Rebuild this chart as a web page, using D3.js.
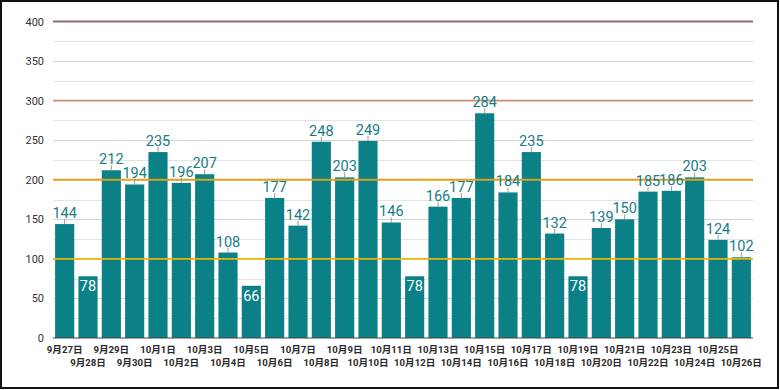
<!DOCTYPE html>
<html><head><meta charset="utf-8">
<script src="https://cdn.jsdelivr.net/npm/d3@7/dist/d3.min.js"></script>
<style>
html,body{margin:0;padding:0;background:#fff;}
svg{display:block;}
</style></head>
<body>
<svg id="chart" width="780" height="390"></svg>
<script>
const categories = ["9月27日","9月28日","9月29日","9月30日","10月1日","10月2日","10月3日","10月4日","10月5日","10月6日","10月7日","10月8日","10月9日","10月10日","10月11日","10月12日","10月13日","10月14日","10月15日","10月16日","10月17日","10月18日","10月19日","10月20日","10月21日","10月22日","10月23日","10月24日","10月25日","10月26日"];
const values = [144,78,212,194,235,196,207,108,66,177,142,248,203,249,146,78,166,177,284,184,235,132,78,139,150,185,186,203,124,102];
const yTicks = [0,50,100,150,200,250,300,350,400];
const gridValues = [25,50,75,125,150,175,225,250,275,325,350,375];
const refLines = [100,200,300,400];
const refColors = ["#e8b407","#e0a01c","#cc8c6c","#8a6e68"];

const svg = d3.select("#chart");
const W = 780, H = 390;
const m = {left:53, right:27, top:21.5, bottom:52};
const x = d3.scaleBand().domain(categories).range([m.left, W - m.right]).paddingInner(0.18).paddingOuter(0.09);
const y = d3.scaleLinear().domain([0,400]).range([338, 21.5]);

svg.append("rect").attr("x",1).attr("y",1).attr("width",777).attr("height",387)
  .attr("fill","#fff").attr("stroke","#111").attr("stroke-width",2);

const font = "Roboto, 'Noto Sans CJK JP', sans-serif";

// minor grid
svg.append("g").selectAll("line").data(gridValues).join("line")
  .attr("x1", m.left).attr("x2", W - m.right)
  .attr("y1", d => Math.round(y(d)) + 0.5).attr("y2", d => Math.round(y(d)) + 0.5)
  .attr("stroke", d => d % 50 === 0 ? "#d4d4d4" : "#e4e4e4").attr("stroke-width", 1);

// y axis labels
const yAxis = d3.axisLeft(y).tickValues(yTicks).tickSize(0).tickPadding(9);
const ga = svg.append("g").attr("transform", `translate(${m.left},0)`).call(yAxis);
ga.select(".domain").remove();
ga.selectAll("text").attr("font-family", font).attr("font-size", 11).attr("fill", "#333");

// bars
svg.append("g").selectAll("rect").data(values).join("rect")
  .attr("x", (d,i) => x(categories[i]))
  .attr("width", x.bandwidth())
  .attr("y", d => y(d))
  .attr("height", d => y(0) - y(d))
  .attr("fill", "#0b8087");

// reference lines
svg.append("g").selectAll("line").data(refLines).join("line")
  .attr("x1", m.left).attr("x2", W - m.right)
  .attr("y1", d => y(d)).attr("y2", d => y(d))
  .attr("stroke", (d,i) => refColors[i]).attr("stroke-width", 1.8);

// baseline
svg.append("line").attr("x1", m.left).attr("x2", W - m.right)
  .attr("y1", y(0)).attr("y2", y(0)).attr("stroke", "#444").attr("stroke-width", 1.2);

// x axis labels
const xAxis = d3.axisBottom(x).tickSize(0).tickPadding(0);
const gx = svg.append("g").attr("transform", `translate(0,${y(0)})`).call(xAxis);
gx.select(".domain").remove();
gx.selectAll("text")
  .attr("font-family", font).attr("font-size", 9.6).attr("font-weight", 700).attr("fill", "#2a2a2a")
  .attr("dy", null)
  .attr("y", (d,i) => i % 2 === 0 ? 14.5 : 27.5);

// value labels
const lab = svg.append("g");
values.forEach((v,i) => {
  const cx = x(categories[i]) + x.bandwidth()/2;
  const inside = v < 90;
  if (inside) {
    lab.append("text").attr("x", cx).attr("y", y(v) + 15)
      .attr("text-anchor","middle").attr("font-family", font).attr("font-size", 14.5)
      .attr("fill","#fff").text(v);
  } else {
    lab.append("line").attr("x1", cx).attr("x2", cx).attr("y1", y(v) - 5).attr("y2", y(v))
      .attr("stroke","#999").attr("stroke-width",1);
    lab.append("text").attr("x", cx).attr("y", y(v) - 6)
      .attr("text-anchor","middle").attr("font-family", font).attr("font-size", 14.5)
      .attr("fill","#167d84").text(v);
  }
});
</script>
</body></html>
